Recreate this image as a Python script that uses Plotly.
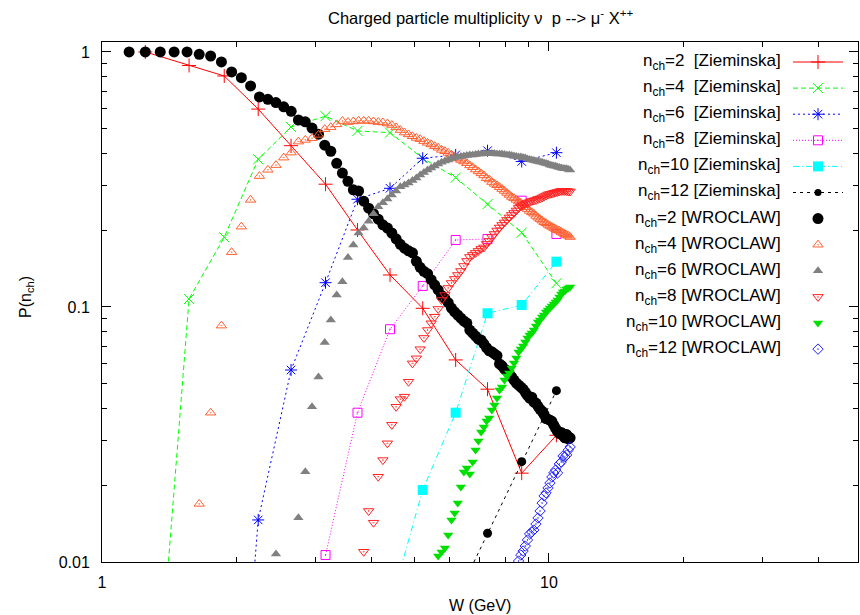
import plotly.graph_objects as go

# ---------------- data ----------------
W_ZIEM = [1.25, 1.566, 1.877, 2.236, 2.648, 3.163, 3.729, 4.409, 5.218, 6.183, 7.286, 8.688, 10.39]
Z2 = [1.0, 0.885, 0.805, 0.597, 0.429, 0.303, 0.2004, 0.1335, 0.0988, 0.062, 0.0476, 0.0223, 0.0314]
Z4 = [0.0007, 0.1075, 0.1877, 0.3796, 0.508, 0.56, 0.49, 0.4826, 0.383, 0.3214, 0.253, 0.1956, 0.1239]
Z6 = [None, None, 0.0003, 0.01462, 0.0566, 0.1245, 0.2645, 0.292, 0.383, 0.3946, 0.41, 0.372, 0.4028]
Z8 = [None, None, None, None, None, 0.01065, 0.0385, 0.0818, 0.1209, 0.1831, 0.1848, 0.2611, 0.1933]
Z10 = [None, None, None, None, None, None, None, 0.0067, 0.01916, 0.0385, 0.0945, 0.1018, 0.1505]
Z12 = [None, None, None, None, None, None, None, None, None, 0.0071, 0.01296, 0.02474, 0.04697]

W_WROC = [1.15, 1.25, 1.35, 1.45, 1.55, 1.65, 1.75, 1.85, 1.95, 2.05,
          2.15, 2.25, 2.35, 2.45, 2.55, 2.65, 2.75, 2.85, 2.95, 3.05,
          3.15, 3.25, 3.35, 3.45, 3.55, 3.65, 3.75, 3.85, 3.95, 4.05,
          4.15, 4.25, 4.35, 4.45, 4.55, 4.65, 4.75, 4.85, 4.95, 5.05,
          5.15, 5.25, 5.35, 5.45, 5.55, 5.65, 5.75, 5.85, 5.95, 6.05,
          6.15, 6.25, 6.35, 6.45, 6.55, 6.65, 6.75, 6.85, 6.95, 7.05,
          7.15, 7.25, 7.35, 7.45, 7.55, 7.65, 7.75, 7.85, 7.95, 8.05,
          8.15, 8.25, 8.35, 8.45, 8.55, 8.65, 8.75, 8.85, 8.95, 9.05,
          9.15, 9.25, 9.35, 9.45, 9.55, 9.65, 9.75, 9.85, 9.95, 10.05,
          10.15, 10.25, 10.35, 10.45, 10.55, 10.65, 10.75, 10.85, 10.95, 11.05,
          11.15]

R2 = [1.0, 1.0, 1.0, 1.0, 1.0, 0.979, 0.964, 0.914, 0.835, 0.793,
      0.736, 0.666, 0.652, 0.633, 0.609, 0.585, 0.541, 0.532, 0.503, 0.476,
      0.431, 0.408, 0.366, 0.335, 0.311, 0.288, 0.285, 0.260, 0.244, 0.232,
      0.221, 0.210, 0.204, 0.195, 0.185, 0.176, 0.170, 0.166, 0.163, 0.151,
      0.143, 0.138, 0.135, 0.128, 0.122, 0.1166, 0.111, 0.108, 0.104, 0.099,
      0.0956, 0.093, 0.0905, 0.0881, 0.0865, 0.0812, 0.079, 0.0769, 0.0748, 0.0742,
      0.0717, 0.0692, 0.0673, 0.0667, 0.0655, 0.0644, 0.0598, 0.0588, 0.0571, 0.0561,
      0.0546, 0.0532, 0.0517, 0.0503, 0.0494, 0.0485, 0.0476, 0.0463, 0.0450, 0.0439,
      0.0443, 0.0424, 0.0420, 0.0408, 0.0397, 0.0390, 0.0379, 0.0365, 0.0363, 0.0360,
      0.0356, 0.0344, 0.0334, 0.0325, 0.0319, 0.0322, 0.0313, 0.0307, 0.0316, 0.0304,
      0.0307]

R4 = [None, None, None, None, None, 0.0169, 0.0385, 0.0845, 0.164, 0.2065,
      0.263, 0.326, 0.345, 0.360, 0.385, 0.403, 0.445, 0.452, 0.459, 0.473,
      0.498, 0.507, 0.520, 0.536, 0.531, 0.534, 0.537, 0.537, 0.537, 0.534,
      0.531, 0.529, 0.524, 0.517, 0.506, 0.494, 0.483, 0.475, 0.467, 0.460,
      0.455, 0.447, 0.440, 0.434, 0.427, 0.421, 0.413, 0.408, 0.402, 0.395,
      0.389, 0.382, 0.377, 0.372, 0.366, 0.359, 0.353, 0.346, 0.340, 0.334,
      0.328, 0.320, 0.316, 0.309, 0.304, 0.300, 0.295, 0.290, 0.285, 0.280,
      0.275, 0.270, 0.267, 0.263, 0.259, 0.256, 0.251, 0.246, 0.242, 0.238,
      0.235, 0.232, 0.2275, 0.224, 0.221, 0.218, 0.215, 0.213, 0.210, 0.208,
      0.206, 0.204, 0.202, 0.200, 0.199, 0.197, 0.195, 0.193, 0.1915, 0.190,
      0.188]

R6 = [None, None, None, None, None, None, None, None, None, None,
      None, None, None, 0.01075, None, None, 0.0149, 0.0226, 0.0406, 0.0531,
      0.0726, 0.0889, 0.1114, 0.1257, 0.1563, 0.175, 0.195, 0.204, 0.217, 0.232,
      0.247, 0.256, 0.265, 0.275, 0.285, 0.296, 0.301, 0.306, 0.313, 0.3205,
      0.329, 0.337, 0.3445, 0.351, 0.357, 0.364, 0.369, 0.374, 0.377, 0.382,
      0.386, 0.387, 0.389, 0.391, 0.393, 0.3945, 0.3945, 0.396, 0.398, 0.398,
      0.400, 0.400, 0.400, 0.400, 0.400, 0.398, 0.398, 0.398, 0.396, 0.3945,
      0.3945, 0.393, 0.391, 0.389, 0.387, 0.387, 0.386, 0.384, 0.3805, 0.379,
      0.377, 0.375, 0.374, 0.372, 0.370, 0.369, 0.367, 0.365, 0.364, 0.360,
      0.359, 0.357, 0.356, 0.354, 0.352, 0.351, 0.349, 0.348, 0.348, 0.346,
      0.3445]

R8 = [None, None, None, None, None, None, None, None, None, None,
      None, None, None, None, None, None, None, None, None, None,
      None, None, None, None, None, None, None, 0.01097, 0.01585, 0.01426,
      0.0216, 0.0251, 0.0292, 0.0345, 0.0406, 0.0435, 0.0445, 0.0509, 0.0601, 0.0629,
      0.0683, 0.0756, 0.0812, 0.0863, 0.0916, 0.0982, 0.1065, 0.1114, 0.1187, 0.1242,
      0.1288, 0.1335, 0.1384, 0.1448, 0.1515, 0.1571, 0.160, 0.1629, 0.1659, 0.1689,
      0.1712, 0.1767, 0.1815, 0.1881, 0.1933, 0.1995, 0.205, 0.2097, 0.2145, 0.2194,
      0.2244, 0.2295, 0.2337, 0.239, 0.2445, 0.2478, 0.2512, 0.2534, 0.2557, 0.258,
      0.2604, 0.2616, 0.2628, 0.2652, 0.2664, 0.2688, 0.2713, 0.2737, 0.2762, 0.2774,
      0.2787, 0.28, 0.2812, 0.2825, 0.2838, 0.2851, 0.2851, 0.2851, 0.2851, 0.2838,
      0.2838]

R10 = [None, None, None, None, None, None, None, None, None, None,
       None, None, None, None, None, None, None, None, None, None,
       None, None, None, None, None, None, None, None, None, None,
       None, None, None, None, None, None, None, None, None, None,
       None, None, None, None, None, 0.01056, 0.01094, 0.01135, 0.01276, 0.01461,
       0.01557, 0.01703, 0.01968, 0.02254, 0.02337, 0.02214, 0.02467, 0.02749, 0.02981, 0.03234,
       0.03383, 0.03572, 0.0367, 0.03945, 0.04128, 0.04396, 0.04725, 0.04856, 0.05172, 0.05362,
       0.05509, 0.05763, 0.0603, 0.0631, 0.06662, 0.06845, 0.07034, 0.07293, 0.0756, 0.07768,
       0.07907, 0.08124, 0.08423, 0.08733, 0.08892, 0.09137, 0.09303, 0.09559, 0.09731, 0.09911,
       0.1009, 0.1027, 0.1046, 0.1065, 0.1094, 0.1124, 0.1145, 0.1155, 0.1176, 0.1187,
       0.1198]

R12 = [None, None, None, None, None, None, None, None, None, None,
       None, None, None, None, None, None, None, None, None, None,
       None, None, None, None, None, None, None, None, None, None,
       None, None, None, None, None, None, None, None, None, None,
       None, None, None, None, None, None, None, None, None, None,
       None, None, None, None, None, None, None, None, None, None,
       None, None, None, None, None, None, None, None, None, None,
       None, None, None, None, 0.01009, 0.01065, 0.01104, 0.01155, 0.0122, 0.01288,
       0.01311, 0.01335, 0.01409, 0.01488, 0.01585, 0.01703, 0.01815, 0.01865, 0.01951, 0.02041,
       0.02154, 0.02234, 0.02295, 0.02234, 0.02423, 0.02467, 0.02604, 0.0258, 0.02628, 0.02749,
       0.02825]

LEGEND_LABELS = [
    "n<sub>ch</sub>=2\u00a0 [Zieminska]",
    "n<sub>ch</sub>=4\u00a0 [Zieminska]",
    "n<sub>ch</sub>=6\u00a0 [Zieminska]",
    "n<sub>ch</sub>=8\u00a0 [Zieminska]",
    "n<sub>ch</sub>=10 [Zieminska]",
    "n<sub>ch</sub>=12 [Zieminska]",
    "n<sub>ch</sub>=2 [WROCLAW]",
    "n<sub>ch</sub>=4 [WROCLAW]",
    "n<sub>ch</sub>=6 [WROCLAW]",
    "n<sub>ch</sub>=8 [WROCLAW]",
    "n<sub>ch</sub>=10 [WROCLAW]",
    "n<sub>ch</sub>=12 [WROCLAW]",
]

# ---------------- styles ----------------
FONT = "Liberation Sans, Arial, Helvetica, sans-serif"
styles = [
    dict(x=W_ZIEM, y=Z2, lc="#ff0000", dash="solid", sym="cross-thin-open", ms=10, mc="#ff0000", line=True),
    dict(x=W_ZIEM, y=Z4, lc="#00ff00", dash="5px,3px", sym="x-thin-open", ms=10, mc="#00ff00", line=True),
    dict(x=W_ZIEM, y=Z6, lc="#0000ff", dash="2px,3px", sym="asterisk-open", ms=10, mc="#0000ff", line=True),
    dict(x=W_ZIEM, y=Z8, lc="#ff00ff", dash="1px,2px", sym="square-open-dot", ms=9, mc="#ff00ff", line=True),
    dict(x=W_ZIEM, y=Z10, lc="#00ffff", dash="6px,3px,1px,3px", sym="square", ms=10, mc="#00ffff", line=True),
    dict(x=W_ZIEM, y=Z12, lc="#000000", dash="3px,4px", sym="circle", ms=9, mc="#000000", line=True),
    dict(x=W_WROC, y=R2, sym="circle", ms=11, mc="#000000", line=False),
    dict(x=W_WROC, y=R4, sym="triangle-up-open-dot", ms=9, mc="#ff6030", line=False),
    dict(x=W_WROC, y=R6, sym="triangle-up", ms=9, mc="#808080", line=False),
    dict(x=W_WROC, y=R8, sym="triangle-down-open-dot", ms=9, mc="#ff2020", line=False),
    dict(x=W_WROC, y=R10, sym="triangle-down", ms=9, mc="#00e000", line=False),
    dict(x=W_WROC, y=R12, sym="diamond-open-dot", ms=8, mc="#2020ff", line=False),
]

fig = go.Figure()

for s in styles:
    open_sym = "open" in s["sym"]
    marker = dict(symbol=s["sym"], size=s["ms"], color=s["mc"],
                  line=dict(color=s["mc"], width=1 if open_sym else 0))
    if s["line"]:
        fig.add_trace(go.Scatter(x=s["x"], y=s["y"], mode="lines+markers",
                                 line=dict(color=s["lc"], width=1, dash=s["dash"]),
                                 marker=marker, showlegend=False, connectgaps=False))
    else:
        fig.add_trace(go.Scatter(x=s["x"], y=s["y"], mode="markers",
                                 marker=marker, showlegend=False))

# ---------------- custom gnuplot-like key ----------------
PL, PR, PT, PB = 102, 858, 42, 562   # plot area in pixels
KEY_TEXT_X = 783
KEY_L0, KEY_L1, KEY_M = 793, 843, 818
KEY_Y0, KEY_DY = 62, 26.1

for i, (lab, s) in enumerate(zip(LEGEND_LABELS, styles)):
    ypix = KEY_Y0 + KEY_DY * i
    open_sym = "open" in s["sym"]
    ms = s["ms"] if i != 5 else 7
    if s["line"]:
        fig.add_trace(go.Scatter(x=[KEY_L0, KEY_L1], y=[ypix, ypix], mode="lines",
                                 line=dict(color=s["lc"], width=1, dash=s["dash"]),
                                 xaxis="x2", yaxis="y2", showlegend=False, hoverinfo="skip"))
    fig.add_trace(go.Scatter(x=[KEY_M], y=[ypix], mode="markers",
                             marker=dict(symbol=s["sym"], size=ms, color=s["mc"],
                                         line=dict(color=s["mc"], width=1 if open_sym else 0)),
                             xaxis="x2", yaxis="y2", showlegend=False, hoverinfo="skip"))
    fig.add_annotation(x=(KEY_TEXT_X - PL) / (PR - PL), y=(PB - ypix) / (PB - PT),
                       xref="paper", yref="paper", xanchor="right", yanchor="middle",
                       text=lab, showarrow=False, font=dict(family=FONT, size=17, color="black"))

# titles
fig.add_annotation(x=(481 - PL) / (PR - PL), y=(PB - 17) / (PB - PT), xref="paper", yref="paper",
                   text="Charged particle multiplicity \u03bd\u00a0 p --> \u03bc<sup>-</sup> X<sup>++</sup>",
                   showarrow=False, xanchor="center", yanchor="middle",
                   font=dict(family=FONT, size=16.5, color="black"))
fig.add_annotation(x=(480 - PL) / (PR - PL), y=(PB - 605) / (PB - PT), xref="paper", yref="paper",
                   text="W (GeV)", showarrow=False, xanchor="center", yanchor="middle",
                   font=dict(family=FONT, size=16, color="black"))
fig.add_annotation(x=(26 - PL) / (PR - PL), y=(PB - 297) / (PB - PT), xref="paper", yref="paper",
                   text="P(n<sub>ch</sub>)", showarrow=False, xanchor="center", yanchor="middle",
                   textangle=-90, font=dict(family=FONT, size=16, color="black"))

axis_common = dict(showline=True, linecolor="black", linewidth=1, mirror="ticks",
                   ticks="inside", ticklen=9, tickcolor="black", tickwidth=1,
                   showgrid=False, zeroline=False,
                   tickfont=dict(family=FONT, size=16, color="black"))

fig.update_layout(
    width=860, height=615,
    margin=dict(l=PL, r=860 - PR, t=PT, b=615 - PB),
    paper_bgcolor="white", plot_bgcolor="white",
    showlegend=False,
    xaxis=dict(type="log", range=[0, 1.6913], tickvals=[1, 10], ticktext=["1", "10"],
               ticklabelstandoff=6,
               minor=dict(tickvals=[2, 3, 4, 5, 6, 7, 8, 9, 20, 30, 40], ticks="inside",
                          ticklen=5, tickcolor="black", tickwidth=1),
               **axis_common),
    yaxis=dict(type="log", range=[-2, 0.039], tickvals=[0.01, 0.1, 1],
               ticktext=["0.01", "0.1", "1"], ticklabelstandoff=8,
               minor=dict(tickvals=[0.02, 0.03, 0.04, 0.05, 0.06, 0.07, 0.08, 0.09,
                                    0.2, 0.3, 0.4, 0.5, 0.6, 0.7, 0.8, 0.9],
                          ticks="inside", ticklen=5, tickcolor="black", tickwidth=1),
               **axis_common),
    xaxis2=dict(overlaying="x", range=[PL, PR], visible=False, fixedrange=True),
    yaxis2=dict(overlaying="y", range=[PB, PT], visible=False, fixedrange=True),
)

fig.write_html("out.html")
